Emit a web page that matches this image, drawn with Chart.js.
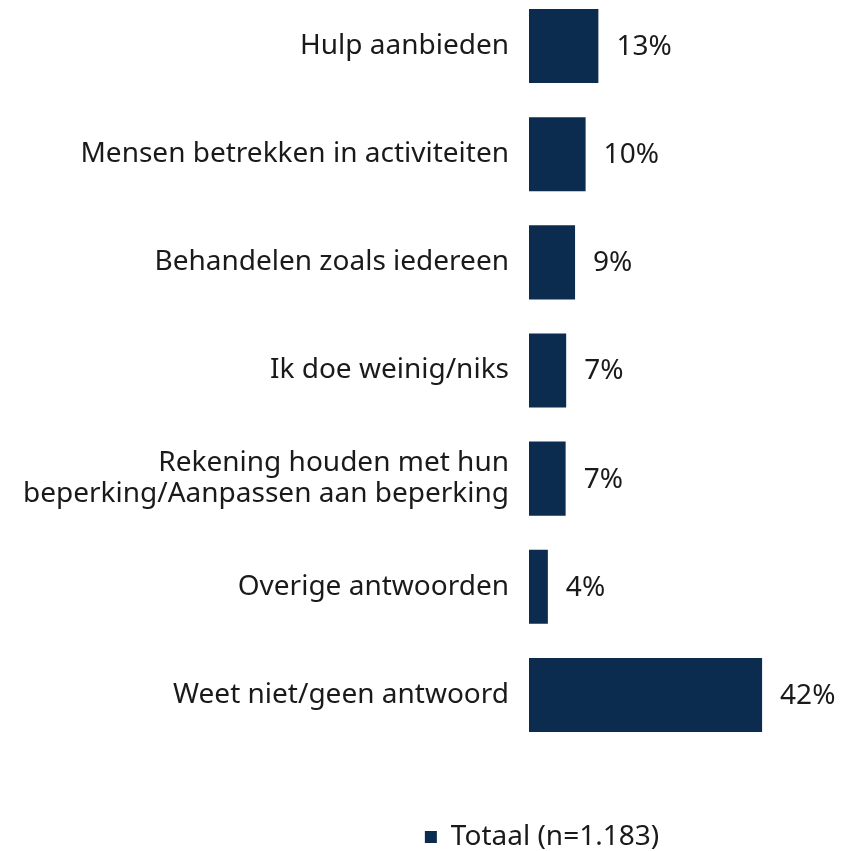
<!DOCTYPE html>
<html>
<head>
<meta charset="utf-8">
<script src="https://cdn.jsdelivr.net/npm/chart.js@4/dist/chart.umd.min.js"></script>
<style>
  html, body { margin: 0; padding: 0; background: #fff; overflow: hidden; }
  #wrap { position: absolute; left: 0; top: -8px; width: 1084px; height: 869px; }
</style>
</head>
<body>
<div id="wrap"><canvas id="chart"></canvas></div>
<script>
// Categorieën en waarden
const categories = [
    'Hulp aanbieden',
    'Mensen betrekken in activiteiten',
    'Behandelen zoals iedereen',
    'Ik doe weinig/niks',
    ['Rekening houden met hun', 'beperking/Aanpassen aan beperking'],
    'Overige antwoorden',
    'Weet niet/geen antwoord'
];
const totaalValues = [12.5, 10.2, 8.3, 6.7, 6.6, 3.4, 42];
const valueLabels = ['13%', '10%', '9%', '7%', '7%', '4%', '42%'];
const seriesName = 'Totaal (n=1.183)';

const FONT = '"Noto Sans", sans-serif';
const TEXT = '#1a1a1a';
const NAVY = '#0b2c4f';

// Waardelabels rechts van de balken
const valueLabelPlugin = {
    id: 'valueLabels',
    afterDatasetsDraw(chart) {
        const ctx = chart.ctx;
        const meta = chart.getDatasetMeta(0);
        ctx.save();
        ctx.font = '28px ' + FONT;
        ctx.fillStyle = TEXT;
        ctx.textAlign = 'left';
        ctx.textBaseline = 'middle';
        meta.data.forEach((bar, i) => {
            ctx.fillText(valueLabels[i], bar.x + 18, bar.y + 1);
        });
        ctx.restore();
    }
};

new Chart(document.getElementById('chart'), {
    type: 'bar',
    data: {
        labels: categories,
        datasets: [{
            label: seriesName,
            data: totaalValues,
            backgroundColor: NAVY,
            categoryPercentage: 1,
            barPercentage: 0.685
        }]
    },
    options: {
        indexAxis: 'y',
        responsive: true,
        maintainAspectRatio: false,
        animation: false,
        layout: { padding: 0 },
        scales: {
            x: {
                min: 0,
                max: 100,
                ticks: { display: false },
                grid: { display: false },
                border: { display: false },
                afterFit(scale) { scale.height = 74; }
            },
            y: {
                grid: { display: false },
                border: { display: false },
                ticks: {
                    color: TEXT,
                    padding: 12,
                    font: { family: FONT, size: 28, lineHeight: 1.1 }
                },
                afterFit(scale) {
                    scale.width = 529;
                    scale.paddingTop = 0;
                    scale.paddingBottom = 0;
                }
            }
        },
        plugins: {
            legend: {
                position: 'bottom',
                labels: {
                    color: TEXT,
                    boxWidth: 12,
                    boxHeight: 12,
                    padding: 0,
                    font: { family: FONT, size: 28 }
                }
            },
            tooltip: { enabled: false }
        }
    },
    plugins: [valueLabelPlugin]
});
</script>
</body>
</html>
